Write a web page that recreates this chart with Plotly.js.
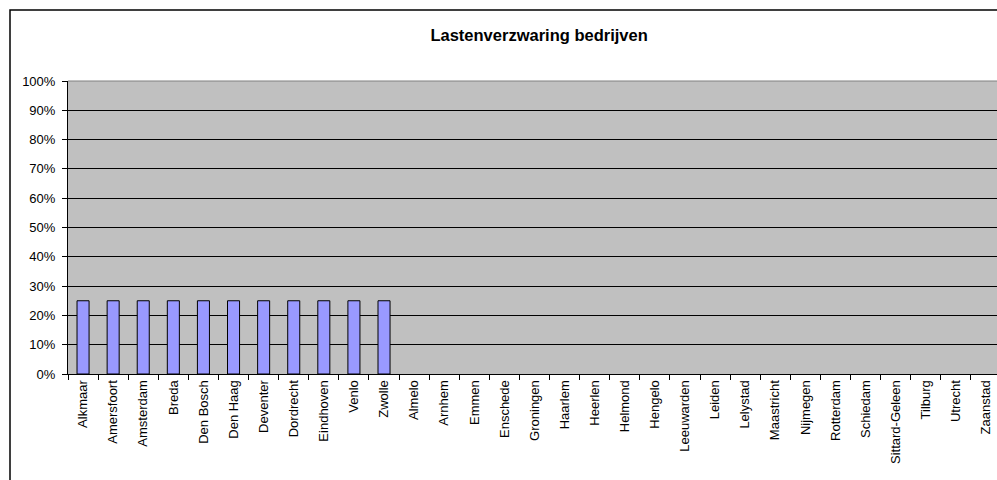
<!DOCTYPE html>
<html>
<head>
<meta charset="utf-8">
<script src="https://cdn.plot.ly/plotly-3.0.1.min.js"></script>
<style>
html,body{margin:0;padding:0;overflow:hidden;background:#fff;}
#chart{width:1012px;height:480px;}
</style>
</head>
<body>
<div id="chart"></div>
<script>
var categories = ["Alkmaar","Amersfoort","Amsterdam","Breda","Den Bosch","Den Haag","Deventer","Dordrecht","Eindhoven","Venlo","Zwolle","Almelo","Arnhem","Emmen","Enschede","Groningen","Haarlem","Heerlen","Helmond","Hengelo","Leeuwarden","Leiden","Lelystad","Maastricht","Nijmegen","Rotterdam","Schiedam","Sittard-Geleen","Tilburg","Utrecht","Zaanstad"];
var values = [0.25,0.25,0.25,0.25,0.25,0.25,0.25,0.25,0.25,0.25,0.25,null,null,null,null,null,null,null,null,null,null,null,null,null,null,null,null,null,null,null,null];
var yTicks = [0,0.1,0.2,0.3,0.4,0.5,0.6,0.7,0.8,0.9,1.0];
var titleText = "Lastenverzwaring bedrijven";

var W = 1012, H = 480;
var mL = 68, mR = 11, mT = 81, mB = 106;
var pw = W - mL - mR, ph = H - mT - mB;
function px(x){return (x - mL)/pw;}
function py(y){return (H - mB - y)/ph;}

var font = "Arial, 'Liberation Sans', sans-serif";

var trace = {
  type: 'bar',
  x: categories,
  y: values,
  marker: {color: '#9999FF', line: {color: '#000000', width: 1}},
  hoverinfo: 'x+y'
};

var layout = {
  width: W, height: H,
  margin: {l: mL, r: mR, t: mT, b: mB, pad: 0},
  paper_bgcolor: '#ffffff',
  plot_bgcolor: '#C0C0C0',
  bargap: 0.6,
  showlegend: false,
  title: {
    text: '<b>' + titleText + '</b>',
    font: {family: font, size: 16.5, color: '#000'},
    x: 511 / W, xanchor: 'center', xref: 'paper',
    y: 1 - 35 / H, yanchor: 'middle', yref: 'container'
  },
  xaxis: {
    type: 'category',
    tickson: 'boundaries',
    ticks: 'outside', ticklen: 5, tickcolor: '#000', tickwidth: 1,
    tickangle: -90,
    tickfont: {family: font, size: 13, color: '#000'},
    showline: true, linecolor: '#000', linewidth: 1,
    showgrid: false, zeroline: false,
    range: [-0.5, categories.length - 0.5],
    fixedrange: true
  },
  yaxis: {
    range: [0, 1],
    tickvals: yTicks,
    tickformat: '.0%',
    ticks: 'outside', ticklen: 5, tickcolor: '#000', tickwidth: 1,
    ticklabelstandoff: 4,
    tickfont: {family: font, size: 13, color: '#000'},
    showline: true, linecolor: '#000', linewidth: 1,
    showgrid: true, gridcolor: '#000000', gridwidth: 1,
    zeroline: false,
    fixedrange: true
  },
  shapes: [
    {type: 'line', xref: 'paper', yref: 'paper', x0: 0, x1: 1, y0: 1, y1: 1,
     line: {color: '#808080', width: 1}, layer: 'above'},
    {type: 'rect', xref: 'paper', yref: 'paper',
     x0: px(10), x1: px(1011), y0: py(10), y1: py(490),
     line: {color: '#000', width: 1.5}, fillcolor: 'rgba(0,0,0,0)', layer: 'above'}
  ]
};

Plotly.newPlot('chart', [trace], layout, {displayModeBar: false, staticPlot: true});
</script>
</body>
</html>
